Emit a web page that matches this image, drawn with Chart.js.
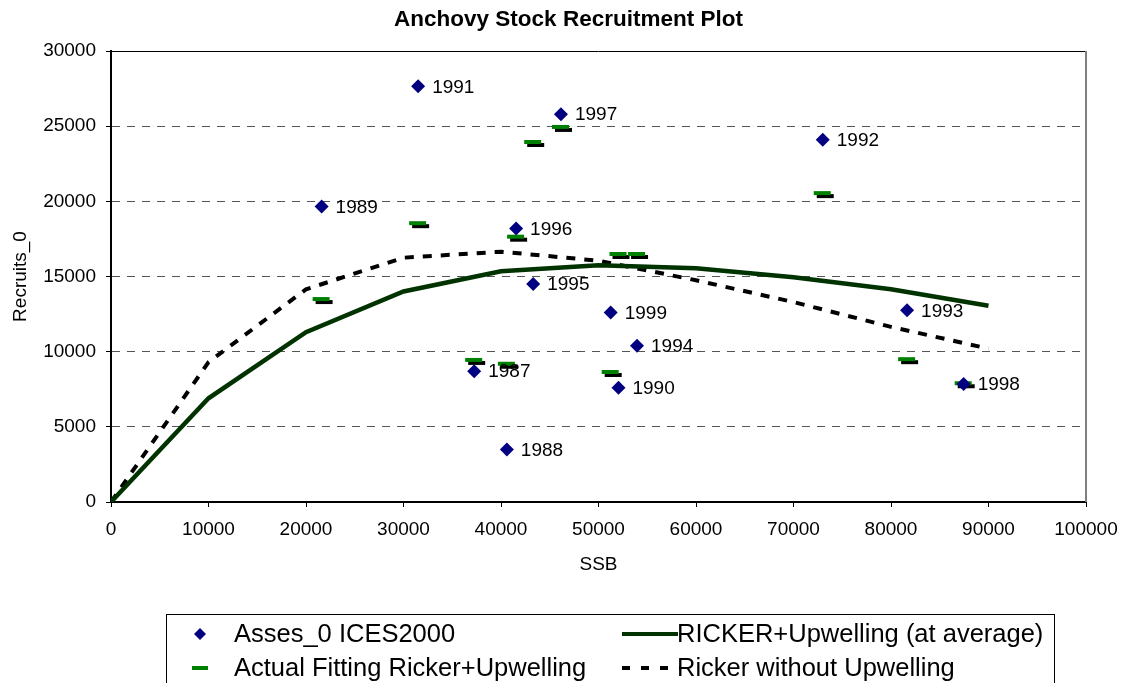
<!DOCTYPE html>
<html>
<head>
<meta charset="utf-8">
<title>Anchovy Stock Recruitment Plot</title>
<script src="https://cdn.jsdelivr.net/npm/chart.js@4.4.1/dist/chart.umd.min.js"></script>
<style>
    html, body { margin: 0; padding: 0; background: #fff; overflow: hidden; }
    #wrap { position: relative; width: 1121px; height: 683px; }
</style>
</head>
<body>
<div id="wrap"><canvas id="srChart"></canvas></div>
<script>
// assessment points (ICES 2000)
const years = ['1987', '1988', '1989', '1990', '1991', '1992', '1993', '1994', '1995', '1996', '1997', '1998', '1999'];
const ssb = [37250, 40600, 21600, 52050, 31500, 73000, 81650, 53950, 43300, 41550, 46150, 87450, 51250];
const recruits = [8700, 3500, 19650, 7600, 27650, 24100, 12750, 10400, 14500, 18200, 25800, 7850, 12600];
// fitted values of Ricker+Upwelling, one per year
const fitted = [9450, 9200, 13500, 16500, 18550, 20550, 9500, 16500, 23950, 17650, 24950, 7900, 8650];

// model curves
const curveSsb = [0, 10000, 20000, 30000, 40000, 50000, 60000, 70000, 80000, 90000];
const rickerUpwelling = [0, 6900, 11300, 14000, 15350, 15750, 15550, 14950, 14150, 13050];
const rickerPlain = [0, 9300, 14150, 16250, 16650, 16050, 14750, 13300, 11650, 10200];

const xTicks = [0, 10000, 20000, 30000, 40000, 50000, 60000, 70000, 80000, 90000, 100000];
const yTicks = [0, 5000, 10000, 15000, 20000, 25000, 30000];

const FONT = "'Liberation Sans', Arial, sans-serif";

function toPoints(xs, ys) {
    return xs.map((x, i) => ({ x: x, y: ys[i] }));
}

// green dash with a black drop shadow, like the Excel marker
function makeDash() {
    const c = document.createElement('canvas');
    c.width = 26;
    c.height = 12;
    const g = c.getContext('2d');
    g.fillStyle = '#000000';
    g.fillRect(7, 7, 17, 4);
    g.fillStyle = '#008000';
    g.fillRect(4, 4, 17, 4);
    return c;
}
const dashMarker = makeDash();

const yearLabels = {
    id: 'yearLabels',
    afterDatasetsDraw(chart) {
        const ctx = chart.ctx;
        const meta = chart.getDatasetMeta(0);
        ctx.save();
        ctx.font = '19px ' + FONT;
        ctx.fillStyle = '#000';
        ctx.textAlign = 'left';
        ctx.textBaseline = 'middle';
        meta.data.forEach((el, i) => {
            ctx.fillText(years[i], el.x + 14, el.y + 1);
        });
        ctx.restore();
    }
};

const plotFrame = {
    id: 'plotFrame',
    afterDraw(chart) {
        const { ctx, chartArea } = chart;
        ctx.save();
        ctx.strokeStyle = '#000';
        ctx.lineWidth = 1;
        ctx.beginPath();
        ctx.moveTo(chartArea.left, chartArea.top + 0.5);
        ctx.lineTo(chartArea.right, chartArea.top + 0.5);
        ctx.stroke();
        ctx.strokeStyle = '#808080';
        ctx.lineWidth = 2;
        ctx.beginPath();
        ctx.moveTo(chartArea.right, chartArea.top);
        ctx.lineTo(chartArea.right, chartArea.bottom);
        ctx.stroke();
        ctx.restore();
    }
};

const boxLegend = {
    id: 'boxLegend',
    afterDraw(chart) {
        const ctx = chart.ctx;
        const ds = chart.data.datasets;
        const rows = [634, 668];
        const col1 = 200, col2 = 622;
        ctx.save();
        ctx.strokeStyle = '#000';
        ctx.lineWidth = 1;
        ctx.strokeRect(166.5, 614.5, 888, 100);

        // diamond
        ctx.fillStyle = ds[0].backgroundColor;
        ctx.beginPath();
        ctx.moveTo(col1, rows[0] - 6);
        ctx.lineTo(col1 + 6, rows[0]);
        ctx.lineTo(col1, rows[0] + 6);
        ctx.lineTo(col1 - 6, rows[0]);
        ctx.closePath();
        ctx.fill();

        // green dash
        ctx.fillStyle = ds[1].backgroundColor;
        ctx.fillRect(col1 - 8, rows[1] - 2, 16, 4);

        // solid line
        ctx.strokeStyle = ds[2].borderColor;
        ctx.lineWidth = 4;
        ctx.beginPath();
        ctx.moveTo(col2, rows[0]);
        ctx.lineTo(col2 + 56, rows[0]);
        ctx.stroke();

        // dashed line
        ctx.strokeStyle = ds[3].borderColor;
        ctx.setLineDash([8, 11]);
        ctx.beginPath();
        ctx.moveTo(col2, rows[1]);
        ctx.lineTo(col2 + 58, rows[1]);
        ctx.stroke();
        ctx.setLineDash([]);

        ctx.font = '25.5px ' + FONT;
        ctx.fillStyle = '#000';
        ctx.textBaseline = 'middle';
        ctx.fillText(ds[0].label, 234, rows[0] + 1);
        ctx.fillText(ds[1].label, 234, rows[1] + 1);
        ctx.fillText(ds[2].label, 677, rows[0] + 1);
        ctx.fillText(ds[3].label, 677, rows[1] + 1);
        ctx.restore();
    }
};

const ctx = document.getElementById('srChart').getContext('2d');

const chart = new Chart(ctx, {
    type: 'scatter',
    data: {
        datasets: [{
            label: 'Asses_0 ICES2000',
            data: toPoints(ssb, recruits),
            pointStyle: 'rectRot',
            pointRadius: 7,
            backgroundColor: '#000080',
            borderColor: '#000080',
            borderWidth: 0,
            showLine: false
        }, {
            label: 'Actual Fitting Ricker+Upwelling',
            data: toPoints(ssb, fitted),
            pointStyle: dashMarker,
            pointRadius: 8,
            backgroundColor: '#008000',
            borderColor: '#008000',
            showLine: false
        }, {
            label: 'RICKER+Upwelling (at average)',
            data: toPoints(curveSsb, rickerUpwelling),
            showLine: true,
            pointRadius: 0,
            borderColor: '#003300',
            borderWidth: 4.5,
            tension: 0
        }, {
            label: 'Ricker without Upwelling',
            data: toPoints(curveSsb, rickerPlain),
            showLine: true,
            pointRadius: 0,
            borderColor: '#000000',
            borderWidth: 4,
            borderDash: [9, 9],
            tension: 0
        }]
    },
    options: {
        responsive: true,
        maintainAspectRatio: false,
        animation: false,
        layout: { padding: { left: 16, right: 0, top: 0, bottom: 101 } },
        plugins: {
            legend: { display: false },
            tooltip: { enabled: false },
            title: {
                display: true,
                text: 'Anchovy Stock Recruitment Plot',
                color: '#000',
                font: { family: FONT, size: 22.5, weight: 'bold' },
                padding: { top: 6, bottom: 18 }
            }
        },
        scales: {
            x: {
                type: 'linear',
                min: 0,
                max: 100000,
                afterBuildTicks: (scale) => { scale.ticks = xTicks.map(v => ({ value: v })); },
                afterFit: (scale) => { scale.height = 80; scale.paddingRight = 35; },
                ticks: {
                    color: '#000',
                    font: { family: FONT, size: 19 },
                    padding: 11,
                    maxRotation: 0,
                    callback: (v) => String(v)
                },
                grid: {
                    drawOnChartArea: false,
                    drawTicks: true,
                    tickLength: 5,
                    tickColor: '#000'
                },
                border: { color: '#000', width: 2 },
                title: {
                    display: true,
                    text: 'SSB',
                    color: '#000',
                    font: { family: FONT, size: 19 },
                    padding: { top: 0, bottom: 6 }
                }
            },
            y: {
                min: 0,
                max: 30000,
                afterBuildTicks: (scale) => { scale.ticks = yTicks.map(v => ({ value: v })); },
                afterFit: (scale) => { scale.width = 95; },
                ticks: {
                    color: '#000',
                    font: { family: FONT, size: 19 },
                    padding: 10,
                    callback: (v) => String(v)
                },
                grid: {
                    color: (c) => (c.tick && (c.tick.value === 0 || c.tick.value === 30000)) ? 'rgba(0,0,0,0)' : '#555555',
                    lineWidth: 1,
                    drawTicks: true,
                    tickLength: 5,
                    tickColor: '#000'
                },
                border: { color: '#000', width: 2, dash: [8, 7] },
                title: {
                    display: true,
                    text: 'Recruits_0',
                    color: '#000',
                    font: { family: FONT, size: 19 },
                    padding: { top: -7, bottom: 0 }
                }
            }
        }
    },
    plugins: [yearLabels, plotFrame, boxLegend]
});
</script>
</body>
</html>
